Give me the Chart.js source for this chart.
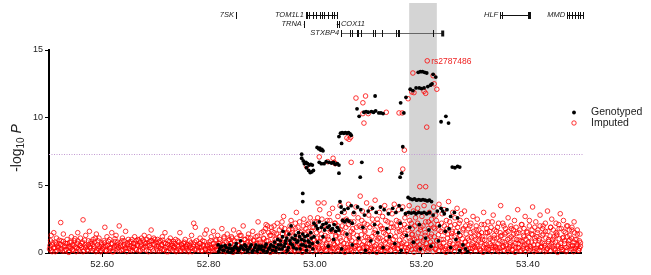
<!DOCTYPE html>
<html>
<head>
<meta charset="utf-8">
<script src="https://cdn.jsdelivr.net/npm/chart.js@4.4.1/dist/chart.umd.min.js"></script>
<style>
  html, body { margin: 0; padding: 0; background: #fff; }
  canvas { display: block; }
</style>
</head>
<body>
<canvas id="chartAssoc" width="651" height="275"></canvas>
<script>
// axis ticks
const xTicks = [52.6, 52.8, 53.0, 53.2, 53.4];
const yTicks = [0, 5, 10, 15];
const threshold = 7.3;
const highlight = [53.177, 53.229];   // shaded region (Mb)

const leadSnp = [53.211, 14.2];
const leadSnpLabel = 'rs2787486';

// genotyped SNPs [position Mb, -log10 P]
const genotyped = [
  [53.194,13.35],[53.198,13.4],[53.202,13.4],[53.206,13.35],[53.210,13.3],[53.222,13.2],[53.227,13.0],
  [53.179,12.1],[53.184,12.0],[53.190,12.2],[53.196,12.2],[53.200,12.15],[53.205,12.2],[53.212,12.3],[53.217,12.4],[53.220,12.5],
  [53.171,11.5],[53.161,11.1],[53.113,11.6],
  [53.079,10.65],[53.083,10.1],[53.092,10.4],[53.096,10.45],[53.100,10.4],[53.106,10.45],[53.110,10.4],[53.114,10.5],
  [53.120,10.35],[53.124,10.35],[53.128,10.3],[53.167,10.35],
  [53.237,9.7],[53.246,10.1],[53.251,9.6],
  [53.045,8.6],[53.048,8.85],[53.051,8.9],[53.054,8.85],[53.057,8.9],[53.060,8.85],[53.063,8.9],[53.066,8.8],[53.068,8.7],[53.050,8.1],
  [53.004,7.8],[53.007,7.7],[53.009,7.75],[53.011,7.6],[53.013,7.65],[53.015,7.55],[53.165,7.85],
  [52.975,7.3],[52.975,7.0],
  [52.978,6.8],[52.980,6.6],[52.983,6.7],[52.986,6.6],[52.989,6.5],[52.992,6.55],[52.995,6.5],
  [52.984,6.3],[52.988,6.1],[52.991,5.95],[52.994,6.0],[52.997,6.1],
  [53.008,6.7],[53.012,6.6],[53.017,6.6],[53.021,6.75],[53.026,6.7],[53.031,6.65],[53.035,6.7],[53.038,6.55],[53.042,6.6],[53.045,6.5],
  [53.045,5.9],[53.088,6.7],[53.085,5.6],[53.160,5.6],[53.163,5.9],
  [53.258,6.35],[53.263,6.3],[53.268,6.4],[53.272,6.35],
  [52.977,4.4],[52.977,3.8],
  [53.175,4.1],[53.179,4.0],[53.183,3.95],[53.187,4.0],[53.191,3.9],[53.195,3.95],[53.199,3.9],[53.203,3.95],[53.207,3.9],
  [53.211,3.85],[53.215,3.9],[53.219,3.8],
  [53.047,3.8],[53.049,3.4],[53.050,3.0],
  [53.055,3.2],[53.062,3.3],[53.068,3.5],[53.073,3.0],[53.080,3.4],[53.086,3.2],[53.093,2.8],[53.100,3.1],[53.108,3.3],
  [53.115,3.0],[53.123,3.4],[53.130,3.2],[53.138,2.9],[53.146,3.3],[53.152,3.0],[53.158,3.5],[53.163,3.2],[53.170,2.9],
  [53.176,3.0],[53.181,2.95],[53.186,3.0],[53.190,2.9],[53.195,3.0],[53.200,2.95],[53.205,3.0],[53.210,2.9],[53.215,3.0],
  [53.222,2.8],[53.230,3.1],[53.237,3.3],[53.240,3.1],[53.243,2.9],[53.248,3.2],[53.255,2.7],[53.262,3.0],[53.268,2.6],
  [52.998,2.2],[53.002,2.0],[53.005,1.8],[53.008,2.3],[53.012,1.9],[53.015,2.1],[53.018,1.7],[53.021,2.2],[53.024,1.9],
  [53.027,2.0],[53.030,1.7],[53.033,1.8],[53.036,2.1],[53.039,1.6],[53.042,1.9],[53.045,1.7],
  [53.052,2.4],[53.056,2.3],[53.060,2.45],[53.064,2.35],[53.070,2.2],[53.090,1.9],[53.112,2.1],[53.135,1.8],
  [53.160,2.2],[53.178,1.9],[53.196,2.1],[53.214,1.7],[53.234,2.0],[53.252,1.8],[53.270,1.5],
  [53.005,0.8],[53.015,1.2],[53.025,0.5],[53.035,1.0],[53.050,0.3],[53.060,1.4],[53.070,0.6],[53.082,1.1],[53.095,0.2],
  [53.105,0.9],[53.118,1.5],[53.128,0.4],[53.140,1.2],[53.150,0.7],[53.162,0.2],[53.172,1.3],[53.185,0.8],[53.198,0.3],
  [53.208,1.1],[53.218,0.5],[53.232,0.9],[53.245,1.6],[53.255,0.4],[53.265,1.0],[53.272,0.2],[53.278,0.6],[53.283,0.3],[53.287,0.1],
  [52.818,0.6],[52.821,0.3],[52.825,0.5],[52.829,0.2],[52.833,0.4],[52.836,0.1],[52.840,0.6],[52.843,0.3],[52.846,0.2],
  [52.850,0.5],[52.853,0.35],[52.856,0.15],[52.860,0.9],[52.863,0.4],[52.866,0.25],[52.870,0.5],[52.873,0.1],[52.876,0.3],
  [52.880,0.6],[52.884,0.2],[52.887,0.4],[52.891,0.15],[52.895,0.5],[52.898,0.3],[52.902,0.2],[52.906,0.45],[52.910,0.1],
  [52.913,0.3],[52.917,0.6],[52.920,0.2],[52.924,0.8],[52.927,0.4],[52.930,1.0],[52.933,0.3],[52.936,0.6],[52.939,1.2],
  [52.942,0.5],[52.945,0.9],[52.948,0.2],[52.951,1.4],[52.954,0.7],[52.957,1.1],[52.960,0.4],[52.963,1.3],[52.966,0.8],
  [52.969,1.5],[52.972,0.3],[52.975,1.0],[52.978,0.6],[52.981,1.2],[52.984,0.2],[52.987,0.9],[52.990,0.5],[52.993,1.1],
  [52.996,0.3],[52.955,2.0],[52.940,1.6],
  [52.819,0.1],[52.823,0.45],[52.827,0.2],[52.831,0.55],[52.838,0.35],[52.842,0.05],[52.848,0.4],[52.852,0.7],
  [52.858,0.3],[52.861,0.5],[52.868,0.6],[52.872,0.25],[52.878,0.45],[52.882,0.1],[52.889,0.6],[52.893,0.3],
  [52.900,0.5],[52.904,0.15],[52.908,0.65],[52.915,0.4],[52.922,0.5],[52.926,0.15],[52.931,0.6],[52.935,0.9],
  [52.938,0.3],[52.944,0.7],[52.947,1.1],[52.950,0.4],[52.953,0.9],[52.958,0.6],[52.962,1.0],[52.965,0.3],
  [52.968,0.9],[52.971,1.2],[52.974,0.6],[52.977,1.4],[52.980,0.9],[52.983,0.5],[52.986,1.3],[52.989,0.8],
  [52.992,1.5],[52.995,0.7],[52.998,1.2]
];

// imputed SNPs [position Mb, -log10 P]
const imputed = [
  [53.211,14.2],[53.184,13.3],[53.222,13.1],[53.224,12.5],[53.229,12.1],
  [53.182,11.9],[53.186,11.85],[53.205,11.95],[53.208,11.8],[53.175,11.4],[53.077,11.45],[53.095,11.6],[53.090,11.1],
  [53.090,10.3],[53.100,10.3],[53.134,10.4],[53.158,10.35],[53.164,10.35],[53.092,9.6],[53.210,9.3],
  [53.060,8.5],[53.064,8.4],[53.067,8.55],[53.008,7.1],[53.068,6.7],[53.168,7.6],[52.984,6.4],
  [53.034,7.0],[53.038,6.6],[53.024,6.75],[53.036,6.7],[53.123,6.15],[53.165,6.2],[53.006,3.7],
  [52.501,0.3],[52.503,0.9],[52.504,1.3],[52.506,0.1],[52.507,0.6],[52.509,1.5],
  [52.511,0.4],[52.512,0.8],[52.514,1.1],[52.515,0.2],[52.517,0.5],[52.519,0.7],
  [52.521,0.3],[52.522,2.25],[52.523,0.9],[52.525,0.15],[52.527,1.4],[52.529,0.5],
  [52.531,0.7],[52.532,0.25],[52.534,1.0],[52.536,0.45],[52.538,0.1],[52.539,0.8],
  [52.541,0.35],[52.542,1.2],[52.544,0.6],[52.546,0.2],[52.548,0.9],[52.549,0.45],
  [52.551,0.1],[52.553,0.7],[52.554,1.5],[52.556,0.3],[52.558,0.55],[52.559,1.1],
  [52.561,0.4],[52.563,0.8],[52.564,2.45],[52.566,0.2],[52.568,0.6],[52.569,1.3],
  [52.571,0.5],[52.573,0.15],[52.574,0.9],[52.576,1.6],[52.578,0.35],[52.579,0.7],
  [52.581,0.2],[52.583,1.0],[52.584,0.5],[52.586,0.8],[52.588,0.1],[52.589,1.4],
  [52.591,0.6],[52.593,0.3],[52.594,1.1],[52.596,0.45],[52.598,0.2],[52.599,0.75],
  [52.601,0.3],[52.603,0.9],[52.605,1.9],[52.606,0.5],[52.608,0.15],[52.609,1.2],
  [52.611,0.6],[52.613,0.2],[52.614,1.0],[52.616,0.4],[52.618,1.5],[52.619,0.7],
  [52.621,0.1],[52.623,0.5],[52.624,0.85],[52.626,1.3],[52.628,0.3],[52.629,0.6],
  [52.631,0.4],[52.632,2.0],[52.634,0.75],[52.636,0.2],[52.638,1.1],[52.639,0.5],
  [52.641,0.9],[52.643,0.3],[52.644,1.6],[52.646,0.1],[52.648,0.6],[52.649,0.35],
  [52.651,0.8],[52.653,0.2],[52.654,0.5],[52.656,1.0],[52.658,0.4],[52.659,0.7],
  [52.661,1.2],[52.662,0.3],[52.664,0.9],[52.666,0.6],[52.667,1.0],[52.669,0.15],
  [52.671,0.8],[52.672,0.5],[52.674,1.1],[52.676,0.3],[52.677,0.95],[52.679,1.3],
  [52.681,0.7],[52.683,0.2],[52.684,1.0],[52.686,0.55],[52.688,1.2],[52.689,0.85],
  [52.691,0.4],[52.692,1.7],[52.694,0.9],[52.696,0.15],[52.697,1.1],[52.699,0.6],
  [52.701,0.8],[52.703,0.3],[52.704,1.0],[52.706,0.5],[52.708,0.15],[52.709,0.9],
  [52.711,0.6],[52.713,1.2],[52.714,0.25],[52.716,0.75],[52.718,1.5],[52.719,0.4],
  [52.721,0.1],[52.723,0.65],[52.724,0.9],[52.726,0.35],[52.728,1.1],[52.729,0.5],
  [52.731,0.7],[52.733,0.2],[52.734,0.85],[52.736,0.45],[52.738,1.0],[52.739,0.1],
  [52.741,0.55],[52.743,0.3],[52.744,0.8],[52.746,1.5],[52.748,0.2],[52.749,0.6],
  [52.751,0.4],[52.753,0.7],[52.754,0.15],[52.756,1.0],[52.758,0.5],[52.759,0.3],
  [52.761,0.6],[52.763,0.2],[52.764,0.9],[52.766,0.4],[52.768,1.3],[52.769,0.1],
  [52.771,0.5],[52.772,2.2],[52.774,0.8],[52.775,1.9],[52.777,0.3],[52.779,0.6],
  [52.781,0.2],[52.783,0.7],[52.784,1.1],[52.786,0.4],[52.788,0.15],[52.789,0.9],
  [52.791,0.5],[52.793,1.4],[52.794,0.25],[52.796,1.7],[52.798,0.6],[52.799,0.3],
  [52.801,0.8],[52.803,0.4],[52.805,1.2],[52.807,0.2],[52.809,1.6],
  [52.811,0.5],[52.813,0.9],[52.815,0.3],[52.817,1.3],[52.819,0.7],
  [52.821,1.0],[52.823,0.4],[52.825,1.8],[52.827,0.6],[52.829,1.1],
  [52.831,0.3],[52.833,0.8],[52.835,1.4],[52.837,0.5],[52.839,1.0],
  [52.841,0.7],[52.843,1.2],[52.845,0.2],[52.847,1.7],[52.849,0.9],
  [52.851,0.4],[52.853,1.1],[52.855,0.6],[52.857,1.5],[52.859,0.3],
  [52.861,1.3],[52.863,0.7],[52.865,2.0],[52.867,0.5],[52.869,1.0],
  [52.871,0.2],[52.873,0.8],[52.875,1.4],[52.877,0.6],[52.879,1.1],
  [52.881,0.4],[52.883,1.6],[52.885,0.9],[52.887,0.3],[52.889,1.2],
  [52.891,0.7],[52.893,2.3],[52.895,1.0],[52.897,0.5],[52.899,1.5],
  [52.901,0.3],[52.903,1.1],[52.905,0.6],[52.907,1.8],[52.909,0.9],
  [52.911,2.0],[52.913,0.4],[52.915,1.3],[52.917,0.7],[52.919,1.6],
  [52.921,0.2],[52.923,1.5],[52.925,1.0],[52.927,0.5],[52.929,2.2],
  [52.931,0.8],[52.933,1.2],[52.935,0.4],[52.937,1.9],[52.939,0.6],
  [52.941,2.7],[52.943,1.0],[52.945,0.3],[52.947,1.4],[52.949,0.8],
  [52.951,1.7],[52.953,0.5],[52.955,2.4],[52.957,0.9],[52.959,1.3],
  [52.961,0.2],[52.963,1.8],[52.965,3.0],[52.967,0.6],[52.969,1.1],
  [52.971,2.3],[52.973,0.4],[52.975,1.6],[52.977,0.9],[52.979,2.5],
  [52.981,0.3],[52.983,1.4],[52.985,2.1],[52.987,0.7],[52.989,1.2],
  [52.991,2.6],[52.993,0.5],[52.995,1.9],[52.997,1.0],[52.999,2.3],
  [53.001,0.4],[53.003,1.5],[53.005,2.6],[53.007,0.8],[53.009,3.2],
  [53.011,1.1],[53.013,0.3],[53.015,2.0],[53.017,3.7],[53.019,1.3],
  [53.021,0.6],[53.023,2.4],[53.025,1.0],[53.027,2.9],[53.029,0.2],
  [53.031,1.7],[53.033,3.3],[53.035,0.7],[53.037,2.2],[53.039,1.2],
  [53.041,0.4],[53.043,2.7],[53.045,1.5],[53.047,3.5],[53.049,0.9],
  [53.051,2.0],[53.053,0.3],[53.055,3.0],[53.057,1.4],[53.059,2.5],
  [53.061,0.6],[53.063,3.6],[53.065,1.1],[53.067,2.3],[53.069,0.2],
  [53.071,1.8],[53.073,2.9],[53.075,0.5],[53.077,3.4],[53.079,1.3],
  [53.081,2.6],[53.083,0.8],[53.085,4.2],[53.087,1.9],[53.089,3.1],
  [53.091,0.4],[53.093,2.2],[53.095,1.2],[53.097,3.7],[53.099,0.7],
  [53.101,2.8],[53.103,1.0],[53.105,3.3],[53.107,0.3],[53.109,2.1],
  [53.111,1.5],[53.113,3.9],[53.115,0.6],[53.117,2.5],[53.119,1.1],
  [53.121,3.0],[53.123,0.2],[53.125,1.8],[53.127,2.7],[53.129,0.9],
  [53.131,3.5],[53.133,1.4],[53.135,0.4],[53.137,2.3],[53.139,3.1],
  [53.141,0.8],[53.143,1.9],[53.145,2.9],[53.147,0.5],[53.149,3.6],
  [53.151,1.2],[53.153,2.4],[53.155,0.3],[53.157,3.2],[53.159,1.6],
  [53.161,2.0],[53.163,0.7],[53.165,3.4],[53.167,1.3],[53.169,2.6],
  [53.171,0.4],[53.173,2.9],[53.175,1.7],[53.177,3.5],[53.179,0.9],
  [53.181,2.2],[53.183,1.4],[53.185,3.1],[53.187,0.6],[53.189,2.6],
  [53.191,1.1],[53.193,3.3],[53.195,0.3],[53.197,4.9],[53.199,1.9],
  [53.201,2.7],[53.203,0.8],[53.205,3.5],[53.207,1.5],[53.208,4.9],
  [53.211,0.4],[53.213,2.3],[53.215,3.0],[53.217,1.2],[53.219,2.5],
  [53.221,0.6],[53.223,3.4],[53.225,1.8],[53.227,2.8],[53.229,0.9],
  [53.231,2.1],[53.233,3.6],[53.235,0.5],[53.237,1.6],[53.239,2.9],
  [53.241,1.0],[53.243,3.2],[53.245,0.3],[53.247,2.4],[53.249,1.4],
  [53.251,3.8],[53.253,0.7],[53.255,2.0],[53.257,1.2],[53.259,3.0],
  [53.261,0.4],[53.263,2.6],[53.265,1.6],[53.267,3.3],[53.269,0.9],
  [53.271,2.2],[53.273,1.3],[53.275,2.9],[53.277,0.5],[53.279,1.8],
  [53.281,3.1],[53.283,0.8],[53.285,2.4],[53.287,1.1],[53.289,0.3],
  [53.291,2.0],[53.293,1.5],[53.295,0.6],[53.297,2.7],[53.299,1.2],
  [53.301,0.4],[53.303,1.7],[53.305,2.5],[53.307,0.9],[53.309,1.3],
  [53.311,0.2],[53.313,2.1],[53.315,1.0],[53.317,3.0],[53.319,0.6],
  [53.321,1.5],[53.323,0.3],[53.325,2.3],[53.327,1.2],[53.329,0.7],
  [53.331,1.9],[53.333,0.4],[53.335,2.8],[53.337,1.1],[53.339,0.5],
  [53.341,1.6],[53.343,0.2],[53.345,2.2],[53.347,0.9],[53.349,3.5],
  [53.351,1.3],[53.353,0.5],[53.355,2.0],[53.357,0.8],[53.359,1.5],
  [53.361,0.3],[53.363,2.6],[53.365,1.1],[53.367,0.6],[53.369,1.8],
  [53.371,0.2],[53.373,1.4],[53.375,2.4],[53.377,0.7],[53.379,1.0],
  [53.381,3.2],[53.383,0.4],[53.385,1.7],[53.387,0.9],[53.389,2.1],
  [53.391,0.3],[53.393,1.2],[53.395,2.7],[53.397,0.6],[53.399,1.5],
  [53.401,0.8],[53.403,2.0],[53.405,0.3],[53.407,1.4],[53.409,3.4],
  [53.411,0.6],[53.413,1.1],[53.415,2.3],[53.417,0.2],[53.419,1.7],
  [53.421,0.9],[53.423,2.8],[53.425,0.4],[53.427,1.3],[53.429,2.0],
  [53.431,0.7],[53.433,1.6],[53.435,0.2],[53.437,3.1],[53.439,1.0],
  [53.441,0.5],[53.443,1.9],[53.445,2.5],[53.447,0.8],[53.449,1.2],
  [53.451,0.3],[53.453,2.2],[53.455,1.4],[53.457,0.6],[53.459,1.8],
  [53.461,2.9],[53.463,0.4],[53.465,1.1],[53.467,2.4],[53.469,0.7],
  [53.471,1.5],[53.473,0.2],[53.475,2.0],[53.477,0.9],[53.479,1.3],
  [53.481,0.5],[53.483,1.7],[53.485,0.3],[53.487,2.3],[53.489,1.0],
  [53.491,0.6],[53.493,1.4],[53.495,0.2],[53.497,0.9],[53.499,0.5],
  [52.802,0.1],[52.806,0.4],[52.812,0.2],[52.816,0.5],[52.822,0.15],[52.826,0.35],[52.832,0.1],[52.836,0.45],
  [52.842,0.25],[52.846,0.05],[52.852,0.4],[52.856,0.2],[52.862,0.1],[52.866,0.5],[52.872,0.3],[52.876,0.1],
  [52.882,0.45],[52.886,0.2],[52.892,0.1],[52.896,0.35],[52.902,0.15],[52.906,0.5],[52.912,0.2],[52.916,0.05],
  [52.922,0.4],[52.926,0.25],[52.932,0.1],[52.936,0.5],[52.942,0.3],[52.946,0.1],[52.952,0.4],[52.956,0.2],
  [52.962,0.1],[52.966,0.45],[52.972,0.25],[52.976,0.05],[52.982,0.35],[52.986,0.15],[52.992,0.5],[52.996,0.1],
  [53.002,0.2],[53.006,0.45],[53.012,0.1],[53.016,0.35],[53.022,0.2],[53.026,0.5],[53.032,0.1],[53.036,0.3],
  [53.042,0.15],[53.046,0.45],[53.052,0.2],[53.056,0.05],[53.062,0.4],[53.066,0.25],[53.072,0.1],[53.076,0.5],
  [53.082,0.3],[53.086,0.1],[53.092,0.45],[53.096,0.2],[53.102,0.1],[53.106,0.4],[53.112,0.25],[53.116,0.05],
  [53.122,0.5],[53.126,0.2],[53.132,0.1],[53.136,0.35],[53.142,0.2],[53.146,0.45],[53.152,0.1],[53.156,0.3],
  [53.162,0.5],[53.166,0.15],[53.172,0.1],[53.176,0.4],[53.182,0.25],[53.186,0.05],[53.192,0.45],[53.196,0.2],
  [53.202,0.1],[53.206,0.35],[53.212,0.2],[53.216,0.5],[53.222,0.1],[53.226,0.3],[53.232,0.15],[53.236,0.45],
  [53.242,0.2],[53.246,0.05],[53.252,0.4],[53.256,0.25],[53.262,0.1],[53.266,0.5],[53.272,0.3],[53.276,0.1],
  [53.282,0.45],[53.286,0.2],[53.292,0.1],[53.296,0.35],[53.302,0.15],[53.306,0.5],[53.312,0.2],[53.316,0.05],
  [53.322,0.4],[53.326,0.25],[53.332,0.1],[53.336,0.5],[53.342,0.3],[53.346,0.1],[53.352,0.4],[53.356,0.2],
  [53.362,0.1],[53.366,0.45],[53.372,0.25],[53.376,0.05],[53.382,0.35],[53.386,0.15],[53.392,0.5],[53.396,0.1],
  [53.402,0.2],[53.406,0.45],[53.412,0.1],[53.416,0.35],[53.422,0.2],[53.426,0.5],[53.432,0.1],[53.436,0.3],
  [53.442,0.15],[53.446,0.45],[53.452,0.2],[53.456,0.05],[53.462,0.4],[53.466,0.25],[53.472,0.1],[53.476,0.5],
  [53.482,0.3],[53.486,0.1],[53.492,0.45],[53.496,0.2],
  // dense low band
  [52.502,0.55],[52.504,0.2],[52.507,0.75],[52.509,0.35],[52.512,0.1],[52.514,0.65],[52.517,0.4],[52.519,0.95],
  [52.522,0.6],[52.524,0.3],[52.527,0.85],[52.529,0.15],[52.532,0.5],[52.534,0.7],[52.537,0.05],[52.539,0.45],
  [52.542,0.8],[52.544,0.25],[52.547,0.6],[52.549,1.05],[52.552,0.35],[52.554,0.9],[52.557,0.15],[52.559,0.55],
  [52.562,0.7],[52.564,0.1],[52.567,0.95],[52.569,0.4],[52.572,0.25],[52.574,0.6],[52.577,0.45],[52.579,0.85],
  [52.582,0.65],[52.584,0.3],[52.587,1.1],[52.589,0.2],[52.592,0.9],[52.594,0.5],[52.597,0.1],[52.599,0.6],
  [52.602,0.45],[52.604,0.75],[52.607,0.2],[52.609,0.55],[52.612,0.85],[52.614,0.35],[52.617,0.65],[52.619,0.1],
  [52.622,0.3],[52.624,1.05],[52.627,0.5],[52.629,0.8],[52.632,0.15],[52.634,0.55],[52.637,0.9],[52.639,0.25],
  [52.642,0.6],[52.644,0.4],[52.647,0.75],[52.649,1.0],[52.652,0.35],[52.654,0.85],[52.657,0.15],[52.659,0.5],
  [52.662,0.7],[52.664,0.25],[52.667,0.55],[52.669,0.95],[52.672,0.2],[52.674,0.6],[52.677,0.4],[52.679,0.8],
  [52.682,0.45],[52.684,0.75],[52.687,0.1],[52.689,0.55],[52.692,0.9],[52.694,0.3],[52.697,0.65],[52.699,1.0],
  [52.702,0.5],[52.704,0.15],[52.707,0.8],[52.709,0.35],[52.712,0.6],[52.714,0.95],[52.717,0.25],[52.719,0.7],
  [52.722,0.45],[52.724,0.1],[52.727,0.85],[52.729,0.3],[52.732,0.55],[52.734,0.4],[52.737,0.7],[52.739,0.2],
  [52.742,0.9],[52.744,0.5],[52.747,0.15],[52.749,0.65],[52.752,0.3],[52.754,0.8],[52.757,0.45],[52.759,0.6],
  [52.762,0.1],[52.764,0.55],[52.767,0.75],[52.769,0.35],[52.772,0.65],[52.774,0.25],[52.777,0.9],[52.779,0.45],
  [52.782,0.4],[52.784,0.7],[52.787,0.2],[52.789,0.6],[52.792,0.85],[52.794,0.3],[52.797,0.5],[52.799,0.1],
  [52.802,0.6],[52.804,0.9],[52.807,0.35],[52.809,0.7],[52.812,0.45],[52.814,1.0],[52.817,0.2],[52.819,0.55],
  [52.822,0.8],[52.824,0.3],[52.827,0.65],[52.829,1.2],[52.832,0.5],[52.834,0.15],[52.837,0.9],[52.839,0.4],
  [52.842,0.7],[52.844,1.1],[52.847,0.25],[52.849,0.6],[52.852,0.35],[52.854,0.85],[52.857,0.55],[52.859,1.3],
  [52.862,0.75],[52.864,0.2],[52.867,1.0],[52.869,0.45],[52.872,0.6],[52.874,1.15],[52.877,0.3],[52.879,0.8],
  [52.882,0.5],[52.884,0.95],[52.887,0.15],[52.889,0.65],[52.892,1.25],[52.894,0.4],[52.897,0.8],[52.899,0.25],
  [52.902,0.7],[52.904,1.05],[52.907,0.45],[52.909,0.2],[52.912,0.9],[52.914,0.6],[52.917,1.3],[52.919,0.35],
  [52.922,0.75],[52.924,0.15],[52.927,1.1],[52.929,0.5],[52.932,0.4],[52.934,0.95],[52.937,0.65],[52.939,1.4],
  [52.942,0.25],[52.944,0.8],[52.947,0.55],[52.949,1.15],[52.952,0.7],[52.954,0.3],[52.957,1.5],[52.959,0.6],
  [52.962,0.9],[52.964,0.45],[52.967,1.2],[52.969,0.2],[52.972,0.65],[52.974,1.35],[52.977,0.35],[52.979,0.85],
  [52.982,1.0],[52.984,0.55],[52.987,1.6],[52.989,0.3],[52.992,0.75],[52.994,1.25],[52.997,0.5],[52.999,0.95],
  [53.002,0.6],[53.004,1.1],[53.007,0.3],[53.009,0.85],[53.012,1.4],[53.014,0.5],[53.017,0.95],[53.019,0.2],
  [53.022,0.75],[53.024,1.2],[53.027,0.45],[53.029,1.6],[53.032,0.35],[53.034,0.9],[53.037,0.6],[53.039,1.3],
  [53.042,0.8],[53.044,0.25],[53.047,1.1],[53.049,0.55],[53.052,1.5],[53.054,0.7],[53.057,0.4],[53.059,1.0],
  [53.062,0.2],[53.064,1.25],[53.067,0.65],[53.069,0.9],[53.072,1.45],[53.074,0.35],[53.077,0.8],[53.079,0.55],
  [53.082,1.05],[53.084,0.3],[53.087,1.35],[53.089,0.6],[53.092,0.85],[53.094,1.6],[53.097,0.45],[53.099,1.15],
  [53.102,0.65],[53.104,0.25],[53.107,1.2],[53.109,0.8],[53.112,0.5],[53.114,1.4],[53.117,0.95],[53.119,0.3],
  [53.122,1.1],[53.124,0.6],[53.127,0.4],[53.129,1.5],[53.132,0.75],[53.134,1.05],[53.137,0.2],[53.139,0.9],
  [53.142,1.3],[53.144,0.55],[53.147,1.0],[53.149,0.35],[53.152,0.7],[53.154,1.55],[53.157,0.6],[53.159,0.95],
  [53.162,0.4],[53.164,1.2],[53.167,0.8],[53.169,1.45],[53.172,0.65],[53.174,0.25],[53.177,1.1],[53.179,0.5],
  [53.182,1.35],[53.184,0.75],[53.187,1.0],[53.189,0.3],[53.192,0.85],[53.194,1.5],[53.197,0.6],[53.199,1.15],
  [53.202,0.45],[53.204,0.95],[53.207,1.3],[53.209,0.7],[53.212,1.05],[53.214,0.35],[53.217,0.8],[53.219,1.4],
  [53.222,0.55],[53.224,1.2],[53.227,0.25],[53.229,0.9],[53.232,1.35],[53.234,0.6],[53.237,1.0],[53.239,0.4],
  [53.242,0.75],[53.244,1.55],[53.247,0.5],[53.249,1.1],[53.252,0.3],[53.254,0.85],[53.257,1.45],[53.259,0.65],
  [53.262,1.2],[53.264,0.4],[53.267,0.95],[53.269,0.7],[53.272,1.3],[53.274,0.55],[53.277,1.05],[53.279,0.2],
  [53.282,0.8],[53.284,1.4],[53.287,0.6],[53.289,0.95],[53.292,0.35],[53.294,1.15],[53.297,0.75],[53.299,0.5],
  [53.302,1.0],[53.304,0.6],[53.307,1.35],[53.309,0.3],[53.312,0.8],[53.314,1.2],[53.317,0.45],[53.319,0.95],
  [53.322,0.65],[53.324,1.5],[53.327,0.25],[53.329,1.05],[53.332,0.55],[53.334,0.9],[53.337,1.3],[53.339,0.4],
  [53.342,1.1],[53.344,0.7],[53.347,0.35],[53.349,1.25],[53.352,0.85],[53.354,0.5],[53.357,1.4],[53.359,0.6],
  [53.362,1.0],[53.364,0.3],[53.367,0.75],[53.369,1.2],[53.372,0.55],[53.374,1.05],[53.377,0.4],[53.379,1.45],
  [53.382,0.7],[53.384,0.95],[53.387,0.2],[53.389,0.85],[53.392,1.3],[53.394,0.6],[53.397,1.0],[53.399,0.35],
  [53.402,1.15],[53.404,0.5],[53.407,0.8],[53.409,1.35],[53.412,0.3],[53.414,0.9],[53.417,1.2],[53.419,0.6],
  [53.422,1.05],[53.424,0.45],[53.427,0.75],[53.429,1.4],[53.432,0.55],[53.434,1.1],[53.437,0.35],[53.439,0.85],
  [53.442,1.25],[53.444,0.65],[53.447,1.0],[53.449,0.3],[53.452,0.8],[53.454,1.3],[53.457,0.5],[53.459,1.05],
  [53.462,0.7],[53.464,0.25],[53.467,1.15],[53.469,0.9],[53.472,0.4],[53.474,1.2],[53.477,0.65],[53.479,0.95],
  [53.482,1.1],[53.484,0.55],[53.487,0.8],[53.489,0.3],[53.492,1.0],[53.494,0.6],[53.497,0.35],[53.499,0.75],
  // middle band
  [52.903,1.6],[52.908,2.1],[52.913,1.5],[52.918,1.9],[52.923,2.0],[52.928,1.4],[52.933,1.7],[52.938,2.3],
  [52.943,1.8],[52.948,1.5],[52.953,2.0],[52.958,1.7],[52.963,2.2],[52.968,1.9],[52.973,1.5],[52.978,2.0],
  [52.983,1.8],[52.988,2.2],[52.993,1.6],[52.998,1.9],[53.003,2.3],[53.008,1.7],[53.013,2.5],[53.018,2.0],
  [53.023,1.8],[53.028,2.4],[53.033,1.6],[53.038,2.2],[53.043,2.0],[53.048,1.7],[53.053,2.4],[53.058,1.9],
  [53.063,2.1],[53.068,1.6],[53.073,2.3],[53.078,1.9],[53.083,2.0],[53.088,2.4],[53.093,1.7],[53.098,2.1],
  [53.103,1.9],[53.108,2.5],[53.113,1.7],[53.118,2.2],[53.123,2.0],[53.128,1.8],[53.133,2.4],[53.138,1.6],
  [53.143,2.2],[53.148,1.9],[53.153,2.0],[53.158,2.3],[53.163,1.7],[53.168,2.1],[53.173,1.9],[53.178,2.4],
  [53.183,1.8],[53.188,2.0],[53.193,2.2],[53.198,1.7],[53.203,2.0],[53.208,2.3],[53.213,1.8],[53.218,2.1],
  [53.223,1.9],[53.228,2.4],[53.233,1.7],[53.238,2.2],[53.243,2.0],[53.248,1.8],[53.253,2.3],[53.258,1.6],
  [53.263,2.1],[53.268,1.9],[53.273,2.4],[53.278,1.7],[53.283,2.0],[53.288,1.8],[53.293,2.2],[53.298,1.6],
  [53.303,2.0],[53.308,1.7],[53.313,1.5],[53.318,2.1],[53.323,1.8],[53.328,1.6],[53.333,2.3],[53.338,1.7],
  [53.343,1.9],[53.348,1.5],[53.353,2.2],[53.358,1.8],[53.363,1.6],[53.368,2.0],[53.373,1.7],[53.378,1.9],
  [53.383,1.5],[53.388,2.1],[53.393,1.8],[53.398,1.6],[53.403,2.4],[53.408,1.7],[53.413,1.9],[53.418,1.5],
  [53.423,2.0],[53.428,1.8],[53.433,2.2],[53.438,1.6],[53.443,1.9],[53.448,1.7],[53.453,1.5],[53.458,2.1],
  [53.463,1.8],[53.468,1.6],[53.473,2.0],[53.478,1.7],[53.483,1.9],[53.488,1.5],[53.493,1.7],[53.498,1.4]
];

// gene track (Mb)
const genes = [
  { name: '7SK',    start: 52.8515, end: 52.8525, exons: [52.852], row: 0 },
  { name: 'TOM1L1', start: 52.983, end: 53.041, exons: [52.983,52.985,52.989,52.996,53.002,53.009,53.013,53.017,53.024,53.032,53.036,53.041], row: 0 },
  { name: 'TRNA',   start: 52.979, end: 52.980, exons: [52.979], row: 1 },
  { name: 'COX11',  start: 53.041, end: 53.045, exons: [53.041,53.045], row: 1, labelRight: true },
  { name: 'STXBP4', start: 53.049, end: 53.241, exons: [53.049,53.066,53.070,53.079,53.081,53.086,53.109,53.113,53.126,53.152,53.156,53.158,53.222], row: 2, arrow: true },
  { name: 'HLF',    start: 53.348, end: 53.404, exons: [53.348,53.352,53.400,53.402,53.404], row: 0 },
  { name: 'MMD',    start: 53.474, end: 53.504, exons: [53.474,53.478,53.483,53.488,53.494,53.499,53.504], row: 0 }
];
const geneRowY = [15, 24, 33];

const colors = {
  genotyped: '#000000',
  imputed: '#ff0000',
  band: '#d4d4d4',
  threshold: '#c39bd3',
  text: '#222222'
};

const annotations = {
  id: 'annotations',
  beforeDatasetsDraw(chart) {
    const { ctx, chartArea, scales: { x, y } } = chart;
    ctx.save();
    // shaded locus
    const x0 = x.getPixelForValue(highlight[0]);
    const x1 = x.getPixelForValue(highlight[1]);
    ctx.fillStyle = colors.band;
    ctx.fillRect(x0, 3, x1 - x0, chartArea.bottom - 3);
    // genome-wide significance line
    const ty = Math.round(y.getPixelForValue(threshold)) + 0.5;
    ctx.strokeStyle = colors.threshold;
    ctx.lineWidth = 1;
    ctx.setLineDash([1, 1.5]);
    ctx.beginPath();
    ctx.moveTo(chartArea.left, ty);
    ctx.lineTo(chartArea.right + 2, ty);
    ctx.stroke();
    ctx.restore();
  },
  afterDraw(chart) {
    const { ctx, scales: { x, y } } = chart;
    ctx.save();

    // genes
    ctx.font = 'italic 7.5px "Liberation Sans", Arial, sans-serif';
    ctx.textBaseline = 'middle';
    genes.forEach(g => {
      const gy = geneRowY[g.row];
      const gx0 = x.getPixelForValue(g.start);
      const gx1 = x.getPixelForValue(g.end);
      ctx.strokeStyle = g.name === 'STXBP4' ? '#666' : '#111';
      ctx.lineWidth = 1;
      ctx.beginPath();
      ctx.moveTo(gx0, gy + 0.5);
      ctx.lineTo(gx1, gy + 0.5);
      ctx.stroke();
      ctx.strokeStyle = '#111';
      g.exons.forEach(e => {
        const ex = Math.round(x.getPixelForValue(e)) + 0.5;
        ctx.beginPath();
        ctx.moveTo(ex, gy - 3);
        ctx.lineTo(ex, gy + 4);
        ctx.stroke();
      });
      if (g.arrow) {
        ctx.fillStyle = '#111';
        ctx.fillRect(gx1 - 2, gy - 2.5, 3, 6);
      }
      ctx.fillStyle = colors.text;
      if (g.labelRight) {
        ctx.textAlign = 'left';
        ctx.fillText(g.name, gx1 + 2, gy);
      } else {
        ctx.textAlign = 'right';
        ctx.fillText(g.name, gx0 - 2, gy);
      }
    });

    // lead SNP label
    ctx.fillStyle = '#ee2222';
    ctx.font = '8.5px "Liberation Sans", Arial, sans-serif';
    ctx.textAlign = 'left';
    ctx.fillText(leadSnpLabel, x.getPixelForValue(leadSnp[0]) + 4, y.getPixelForValue(leadSnp[1]) + 0.5);

    // legend
    const lx = 574;
    ctx.fillStyle = colors.genotyped;
    ctx.beginPath();
    ctx.arc(lx, 112.5, 1.9, 0, Math.PI * 2);
    ctx.fill();
    ctx.strokeStyle = colors.imputed;
    ctx.lineWidth = 0.8;
    ctx.beginPath();
    ctx.arc(lx, 123, 2.2, 0, Math.PI * 2);
    ctx.stroke();
    ctx.fillStyle = colors.text;
    ctx.font = '10.5px "Liberation Sans", Arial, sans-serif';
    ctx.textBaseline = 'middle';
    ctx.fillText('Genotyped', 591, 112.5);
    ctx.fillText('Imputed', 591, 123);

    // y axis title: -log10 P
    ctx.translate(21, 148);
    ctx.rotate(-Math.PI / 2);
    ctx.textBaseline = 'alphabetic';
    ctx.textAlign = 'left';
    ctx.fillStyle = colors.text;
    const big = '14px "Liberation Sans", Arial, sans-serif';
    const small = '10px "Liberation Sans", Arial, sans-serif';
    const ital = 'italic 14px "Liberation Sans", Arial, sans-serif';
    ctx.font = big;
    const w1 = ctx.measureText('-log').width;
    ctx.font = small;
    const w2 = ctx.measureText('10').width;
    ctx.font = ital;
    const w3 = ctx.measureText(' P').width;
    let tx = -(w1 + w2 + w3) / 2;
    ctx.font = big;
    ctx.fillText('-log', tx, 0);
    tx += w1;
    ctx.font = small;
    ctx.fillText('10', tx, 3);
    tx += w2;
    ctx.font = ital;
    ctx.fillText(' P', tx, 0);
    ctx.restore();
  }
};

const ctx = document.getElementById('chartAssoc').getContext('2d');
const chartAssoc = new Chart(ctx, {
  type: 'scatter',
  data: {
    datasets: [{
      label: 'Genotyped',
      data: genotyped.map(p => ({ x: p[0], y: p[1] })),
      pointRadius: 1.9,
      backgroundColor: colors.genotyped,
      borderColor: colors.genotyped,
      borderWidth: 0,
      clip: false
    }, {
      label: 'Imputed',
      data: imputed.map(p => ({ x: p[0], y: p[1] })),
      pointRadius: 2.3,
      backgroundColor: 'rgba(0,0,0,0)',
      borderColor: colors.imputed,
      borderWidth: 0.8,
      clip: false
    }]
  },
  options: {
    responsive: false,
    animation: false,
    devicePixelRatio: 1,
    layout: { padding: { left: 0, right: 70, top: 50, bottom: 0 } },
    plugins: {
      legend: { display: false },
      tooltip: { enabled: false }
    },
    scales: {
      x: {
        type: 'linear',
        min: 52.5,
        max: 53.5,
        afterBuildTicks: scale => { scale.ticks = xTicks.map(v => ({ value: v })); },
        afterFit: scale => { scale.height = 22; },
        ticks: {
          callback: v => v.toFixed(2),
          font: { size: 9.5, family: '"Liberation Sans", Arial, sans-serif' },
          color: colors.text,
          padding: 2,
          maxRotation: 0
        },
        grid: { drawOnChartArea: false, drawTicks: true, tickLength: 4, color: '#000' },
        border: { display: true, color: '#000', width: 2 }
      },
      y: {
        min: 0,
        max: 15,
        afterBuildTicks: scale => { scale.ticks = yTicks.map(v => ({ value: v })); },
        afterFit: scale => { scale.width = 49; },
        ticks: {
          font: { size: 9, family: '"Liberation Sans", Arial, sans-serif' },
          color: colors.text,
          padding: 2
        },
        grid: { drawOnChartArea: false, drawTicks: true, tickLength: 4, color: '#000' },
        border: { display: true, color: '#000', width: 2 }
      }
    }
  },
  plugins: [annotations]
});
</script>
</body>
</html>
